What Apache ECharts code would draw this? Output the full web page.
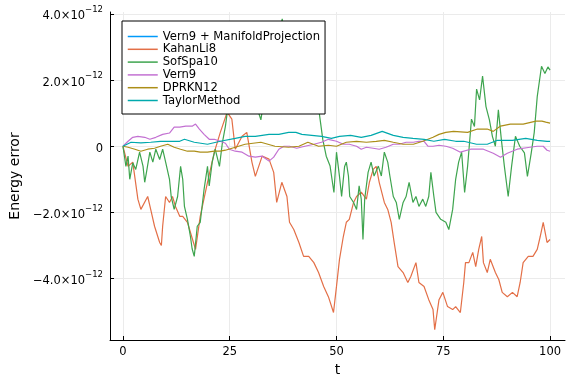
<!DOCTYPE html>
<html><head><meta charset="utf-8">
<script src="https://cdn.jsdelivr.net/npm/echarts@6/dist/echarts.min.js"></script>
<style>html,body{margin:0;padding:0;background:#fff}#c{width:576px;height:384px}</style>
</head><body><div id="c"></div>
<script>
// values in units of 1e-12
const xTicks = [0, 25, 50, 75, 100];
const yTicks = [-4, -2, 0, 2, 4];
const seriesNames = ['Vern9 + ManifoldProjection', 'KahanLi8', 'SofSpa10', 'Vern9', 'DPRKN12', 'TaylorMethod'];
const seriesColors = ['#009AFA', '#E36F47', '#3EA44E', '#C371D2', '#AC8E18', '#00A9AD'];

const manifoldErr = [];
const kahanLi8 = [[0,0],[1.2,-0.61],[2.3,-0.48],[3.5,-1.6],[4.2,-1.91],[5.8,-1.52],[6.5,-1.91],[7.4,-2.42],[8.6,-2.91],[9.0,-3.0],[9.3,-2.42],[10,-1.52],[10.9,-1.7],[11.6,-1.52],[12.3,-1.82],[13.3,-2.12],[14,-2.12],[15.1,-2.3],[16.3,-2.82],[17,-3.12],[18.1,-2.12],[19.8,-1.09],[21.4,-0.18],[22.8,0.42],[24.4,1.03],[25.5,0.82],[26.3,-0.09],[27.9,0.3],[29,0.42],[30.2,-0.48],[31,-0.91],[32.6,-0.3],[34.2,-0.39],[35.3,-0.79],[36,-1.7],[37.2,-1.09],[38.4,-1.52],[39,-2.3],[40,-2.52],[41.2,-2.91],[42.3,-3.33],[43.5,-3.33],[44.7,-3.52],[45.8,-3.82],[47,-4.24],[48.1,-4.55],[49.3,-5.03],[50,-4.24],[50.7,-3.42],[51.6,-2.73],[52.3,-2.3],[53,-2.21],[54,-1.7],[54.7,-1.52],[55.8,-1.39],[57,-1.6],[57.7,-1.09],[58.6,-0.7],[59.3,-0.61],[60,-1.09],[61.2,-1.7],[62,-1.91],[62.8,-2.3],[63.5,-2.91],[64.4,-3.64],[65.6,-3.82],[66.7,-4.12],[67.4,-3.94],[68.6,-3.52],[69.3,-4.12],[70.5,-4.24],[71.6,-4.64],[72.6,-4.94],[73,-5.55],[74,-4.64],[74.9,-4.42],[76,-4.85],[77.2,-4.94],[77.9,-4.85],[79,-5.03],[79.8,-4.12],[80.2,-3.52],[81,-3.52],[81.9,-3.21],[82.6,-3.64],[83.3,-3.12],[84,-2.73],[84.4,-3.52],[85.3,-3.82],[86,-3.42],[87.2,-3.82],[88,-4.03],[88.8,-4.42],[90,-4.55],[91.2,-4.42],[92.3,-4.55],[93,-4.12],[93.7,-3.52],[94.9,-3.33],[96,-3.33],[97,-3.12],[97.7,-2.73],[98.4,-2.3],[99.3,-2.91],[100,-2.82]];
const sofSpa10 = [[0,0],[0.7,-0.61],[1.2,-0.3],[1.6,-1.0],[2.3,-0.5],[3.0,-0.7],[3.9,-0.18],[4.7,-0.6],[5.1,-1.09],[5.5,-0.8],[6.3,-0.18],[7.0,-0.48],[7.7,-0.09],[8.6,-0.4],[9.3,-0.09],[10.0,-0.48],[10.9,-1.0],[11.3,-1.52],[12.0,-1.91],[12.8,-1.52],[13.5,-0.61],[14.0,-1.0],[14.4,-1.82],[15.1,-2.21],[15.8,-2.73],[16.2,-3.1],[16.7,-3.33],[17.4,-2.42],[18.1,-2.3],[19.0,-1.3],[19.8,-0.61],[20.2,-1.2],[20.9,-0.48],[21.6,-0.09],[22.6,-0.61],[23.3,0.12],[24.0,0.61],[24.6,1.2],[25.5,1.0],[26.5,1.3],[27.5,1.9],[28.5,1.5],[29.5,2.0],[30.5,1.6],[31.3,1.2],[32.3,0.8],[33.0,1.4],[34.0,2.1],[35.0,2.6],[36.0,3.2],[37.3,3.85],[38.0,3.1],[39.0,3.3],[40.0,2.6],[41.0,2.9],[42.0,2.2],[43.0,2.5],[44.0,1.8],[45.0,1.5],[46.0,0.97],[46.8,0.2],[47.6,-0.3],[48.5,-0.6],[49.4,-1.4],[50.0,-0.18],[50.7,-0.91],[51.2,-1.52],[51.9,-0.61],[52.3,-0.48],[52.8,-0.9],[53.1,-1.52],[54.0,-1.7],[54.7,-1.91],[55.3,-1.2],[55.8,-1.6],[56.2,-2.82],[56.6,-1.6],[57.4,-0.79],[58.1,-0.48],[58.8,-0.9],[59.8,-0.6],[60.5,-0.9],[61.2,-0.18],[62.0,-0.48],[62.5,-0.9],[63.3,-1.52],[64.0,-1.7],[64.7,-2.21],[65.6,-1.7],[66.3,-1.52],[67.0,-1.09],[67.9,-1.7],[68.6,-1.52],[69.3,-1.82],[70.2,-1.6],[70.9,-1.82],[71.6,-1.52],[72.1,-0.79],[72.8,-1.52],[73.3,-2.0],[74.4,-2.21],[75.6,-2.3],[76.3,-2.52],[77.2,-1.91],[77.9,-1.0],[78.6,-0.48],[79.3,-0.18],[80.0,-1.4],[80.7,-0.6],[81.6,0.82],[82.3,0.6],[82.8,1.73],[83.5,1.4],[84.2,2.12],[85.0,1.2],[85.8,0.8],[86.5,0.3],[87.2,0.0],[87.9,1.1],[88.6,0.2],[89.3,-0.6],[90.2,-1.52],[91.0,-0.6],[91.9,0.3],[92.9,0.0],[94.0,-0.2],[94.7,-0.91],[95.6,-0.2],[96.3,0.42],[97.0,1.5],[98.0,2.42],[98.8,2.2],[99.5,2.4],[100,2.3]];
const vern9 = [[0,0],[1.2,0.15],[2.3,0.27],[3.5,0.3],[5.1,0.27],[6.3,0.21],[7.7,0.27],[9.3,0.36],[10.9,0.4],[12,0.58],[13.3,0.58],[14.7,0.61],[16.3,0.61],[17,0.67],[17.9,0.52],[19,0.36],[20.2,0.21],[21.4,0.21],[22.8,0.15],[24,0.09],[24.9,-0.09],[26.3,-0.15],[27.9,-0.18],[29.5,-0.3],[31,-0.33],[32.6,-0.3],[34.2,-0.45],[35.3,-0.33],[36.5,-0.09],[37.7,0],[39,0],[40.7,-0.06],[42.6,0],[44.7,0.06],[46.5,0.12],[48.1,0.21],[50,0.15],[51.6,0.06],[53,0.06],[54.7,0],[55.8,-0.09],[57,-0.03],[58.6,-0.06],[60,-0.09],[61.6,-0.03],[63.3,0.06],[64.7,0.06],[66.3,0.12],[68,0.12],[69.3,0.15],[70.5,0.15],[71.4,0],[72.6,0],[74,0.03],[75.6,0],[77.2,-0.06],[79,-0.18],[81.4,-0.09],[84.4,-0.09],[86.7,-0.21],[88.4,-0.33],[90,-0.21],[92.3,-0.09],[95.3,-0.03],[97,0],[98.4,0],[99.3,-0.12],[100,-0.15]];
const dprkn12 = [[0,0],[1.2,-0.03],[2.8,-0.09],[4.2,-0.15],[5.8,-0.09],[7.4,-0.06],[8.8,0],[10.5,0.06],[12,-0.03],[13.5,-0.09],[15.1,-0.15],[16.7,-0.15],[18.1,-0.18],[19.8,-0.18],[21.4,-0.15],[22.8,-0.15],[24,-0.12],[26.3,-0.03],[28.6,0.06],[32.3,0.12],[35.6,0],[38.8,-0.03],[41.2,0],[43.3,0.12],[45.8,0],[48.1,0.03],[50,0],[52.3,0.12],[54.7,0.15],[57,0.12],[59.3,0.15],[61.2,0.18],[63.3,0.12],[65.6,0.06],[68,0.06],[70.2,0.15],[72.6,0.27],[74,0.36],[75.6,0.42],[77.4,0.45],[80.7,0.42],[83.0,0.52],[85.3,0.52],[86.7,0.45],[88.4,0.61],[90.7,0.67],[93.7,0.67],[96.7,0.76],[98.1,0.76],[99,0.73],[100,0.70]];
const taylorMethod = [[0,0],[1.9,0.12],[4.2,0.1],[6.5,0.12],[8.8,0.15],[11.2,0.15],[13.3,0.15],[14.4,0.21],[16.7,0.12],[19.8,0.06],[22.8,0.15],[26.3,0.24],[28.6,0.3],[31,0.3],[34.2,0.36],[36.5,0.36],[38.8,0.42],[40.5,0.42],[41.9,0.36],[44.2,0.33],[46.5,0.30],[48.8,0.24],[50.7,0.3],[53.3,0.33],[55.8,0.27],[58.1,0.33],[60.7,0.45],[63.3,0.33],[65.6,0.27],[67.9,0.24],[70.5,0.21],[72.8,0.15],[75.3,0.21],[77.9,0.15],[79.8,0.15],[82.8,0.06],[85.3,0.06],[87.7,0.18],[91.2,0.18],[94.3,0.24],[97,0.18],[99.3,0.15],[100,0.15]];

const allData = [manifoldErr, kahanLi8, sofSpa10, vern9, dprkn12, taylorMethod];
const FONT = 'DejaVu Sans';

function yFmt(v) {
  if (Math.abs(v) < 1e-9) return '{m|0}';
  const sign = v < 0 ? '\u2212' : '';
  return '{m|' + sign + Math.abs(v).toFixed(1) + '\u00d710}{s|\u221212}';
}

const chart = echarts.init(document.getElementById('c'), null, {renderer: 'canvas'});
chart.setOption({
  animation: false,
  backgroundColor: '#fff',
  grid: {left: 107, right: 11, top: 12, bottom: 44, containLabel: false},
  xAxis: {
    type: 'value', min: -3.02, max: 103.5,
    name: 't', nameLocation: 'middle', nameGap: 21,
    nameTextStyle: {fontFamily: FONT, fontSize: 14, color: '#000'},
    axisLine: {show: true, onZero: false, lineStyle: {color: '#000', width: 1}},
    axisTick: {show: true, inside: true, length: 4, customValues: xTicks, lineStyle: {color: '#000'}},
    axisLabel: {customValues: xTicks, margin: 6, fontFamily: FONT, fontSize: 11.5, color: '#000'},
    splitLine: {show: true, lineStyle: {color: '#ebebeb', width: 1}}
  },
  yAxis: {
    type: 'value', min: -5.86, max: 4.06,
    name: 'Energy error', nameLocation: 'middle', nameGap: 88,
    nameTextStyle: {fontFamily: FONT, fontSize: 14, color: '#000'},
    axisLine: {show: true, onZero: false, lineStyle: {color: '#000', width: 1}},
    axisTick: {show: true, inside: true, length: 4, customValues: yTicks, lineStyle: {color: '#000'}},
    axisLabel: {
      customValues: yTicks, margin: 7, formatter: yFmt,
      rich: {
        m: {fontFamily: FONT, fontSize: 11.5, color: '#000', padding: [5, 0, 0, 0]},
        s: {fontFamily: FONT, fontSize: 8.5, color: '#000', verticalAlign: 'top'}
      }
    },
    splitLine: {show: true, lineStyle: {color: '#ebebeb', width: 1}}
  },
  legend: {
    orient: 'vertical', left: 122, top: 21, z: 20,
    data: seriesNames,
    itemWidth: 30, itemHeight: 12, itemGap: 0.8, itemTextGap: 5,
    padding: [9.5, 5, 7.5, 5],
    borderColor: '#000', borderWidth: 1, borderRadius: 0,
    backgroundColor: '#fff',
    itemStyle: {opacity: 0},
    lineStyle: {width: 1.5},
    textStyle: {fontFamily: FONT, fontSize: 11.6, color: '#000', lineHeight: 12}
  },
  series: seriesNames.map((n, i) => ({
    name: n, type: 'line', data: allData[i], symbol: 'none', showSymbol: false,
    color: seriesColors[i],
    lineStyle: {color: seriesColors[i], width: 1.2},
    z: 2 + i
  }))
});
</script>
</body></html>
